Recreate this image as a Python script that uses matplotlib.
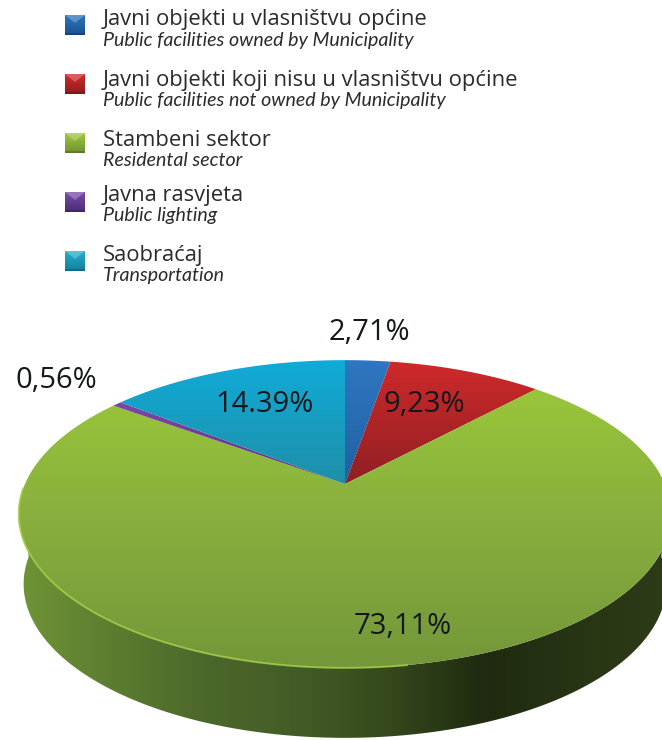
import numpy as np
import matplotlib
matplotlib.use('Agg')
import matplotlib.pyplot as plt
from matplotlib.colors import LinearSegmentedColormap
from matplotlib.patches import Polygon, Rectangle

legend_main = ['Javni objekti u vlasništvu općine', 'Javni objekti koji nisu u vlasništvu općine',
               'Stambeni sektor', 'Javna rasvjeta', 'Saobraćaj']
legend_sub = ['Public facilities owned by Municipality', 'Public facilities not owned by Municipality',
              'Residental sector', 'Public lighting', 'Transportation']
values = [2.71, 9.23, 73.11, 0.56, 14.39]
value_labels = ['2,71%', '9,23%', '73,11%', '0,56%', '14.39%']
label_pos = [(369, 332), (424, 404), (403, 626), (56, 381), (265, 404)]

# colour stops of every slice, top to bottom
slice_colors = [('#2f77c2', '#2160a0'), ('#cf2a2a', '#8f1f24'), ('#98c63a', '#87ad3e', '#739739'),
                ('#7d47a6', '#5a3480'), ('#10abd8', '#1f8fa8')]
swatch_colors = [('#2a78c0', '#1b4f8e'), ('#d32a2c', '#8e1c1e'), ('#a3c83a', '#6c9134'),
                 ('#7a4ba8', '#4a2c78'), ('#22afd0', '#167f9c')]
swatch_top = [15, 74, 133, 192, 251]
main_base = [25, 86, 146, 201, 261]
sub_base = [46, 106, 166, 221, 281]

cx, cy = 345, 484
A, S, K = 320, 148, 0.195
depth = 70

fig = plt.figure(figsize=(6.62, 7.40), dpi=100)
ax = fig.add_axes([0, 0, 1, 1])
ax.set_xlim(0, 662)
ax.set_ylim(740, 0)
ax.axis('off')


# circle angle (from top, clockwise) to picture position, with the pie's perspective
def project(theta):
    u, v = np.sin(theta), np.cos(theta)
    den = 1 + K * v
    return cx + A * u / den, cy - S * v / den


def gradient(poly, colors, horizontal=False, zorder=2):
    cmap = LinearSegmentedColormap.from_list('g', colors)
    g = np.linspace(0, 1, 256)
    g = g.reshape(1, -1) if horizontal else g.reshape(-1, 1)
    x0, y0 = poly.min(axis=0)
    x1, y1 = poly.max(axis=0)
    im = ax.imshow(g, cmap=cmap, extent=(x0, x1, y1, y0), aspect='auto', zorder=zorder)
    im.set_clip_path(Polygon(poly, transform=ax.transData))


# side of the pie
front = np.linspace(np.pi / 2 + 0.02, 3 * np.pi / 2 - 0.02, 300)
fx, fy = project(front)
side = np.vstack([np.column_stack([fx, fy]),
                  np.column_stack([cx + (fx - cx) * 0.985, fy + depth])[::-1]])
gradient(side, ['#6f9336', '#5c7d30', '#4c672a', '#435c27', '#34481c', '#1f2a10', '#283514', '#2d3b17'],
         horizontal=True, zorder=1)

# top face
start = 0
for val, col in zip(values, slice_colors):
    end = start + val / 100 * 2 * np.pi
    tx, ty = project(np.linspace(start, end, max(int(val * 6), 8)))
    gradient(np.vstack([[cx, cy], np.column_stack([tx, ty])]), list(col))
    start = end

# light rim on the lower left edge
rx, ry = project(np.linspace(0.95 * np.pi, 1.49 * np.pi, 150))
ax.plot(rx, ry, color='#a2cc45', lw=1.4, alpha=0.85, zorder=3)

for (x, y), lab in zip(label_pos, value_labels):
    ax.text(x, y, lab, ha='center', va='center', fontsize=21, color='#14181c',
            family='Open Sans', zorder=4)

for top, mb, sb, c, main, sub in zip(swatch_top, main_base, sub_base, swatch_colors, legend_main, legend_sub):
    gradient(np.array([[65, top], [85, top], [85, top + 20], [65, top + 20]]), list(c))
    ax.add_patch(Polygon([[65, top], [85, top], [75, top + 8]], fc='white', alpha=0.25, ec='none', zorder=3))
    ax.add_patch(Rectangle((65, top + 18), 20, 2, fc='black', alpha=0.15, ec='none', zorder=3))
    ax.text(103, mb, main, fontsize=15.8, color='#2b2b2b', family='Open Sans', va='baseline', ha='left')
    ax.text(103, sb, sub, fontsize=14.1, color='#2b2b2b', family='Lato', style='italic',
            va='baseline', ha='left')

ax.set_xlim(0, 662)
ax.set_ylim(740, 0)
plt.savefig('out.png', dpi=100)
